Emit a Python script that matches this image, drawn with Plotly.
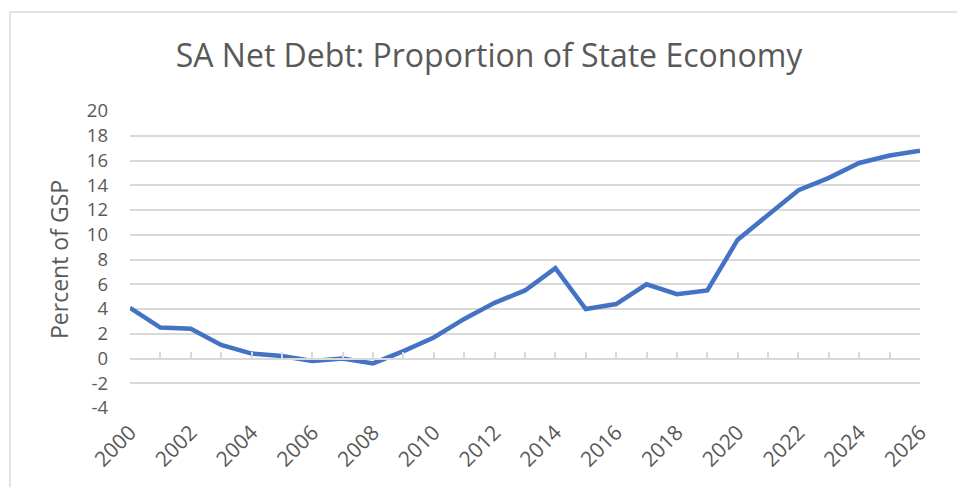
import plotly.graph_objects as go

years = list(range(2000, 2027))
net_debt_pct_gsp = [4.1, 2.5, 2.4, 1.1, 0.4, 0.2, -0.2, 0.0, -0.4, 0.6,
                    1.7, 3.2, 4.5, 5.5, 7.3, 4.0, 4.4, 6.0, 5.2, 5.5,
                    9.6, 11.6, 13.6, 14.6, 15.8, 16.4, 16.8]
x_tick_vals = list(range(2000, 2027, 2))
x_tick_text = [str(v) for v in x_tick_vals]
y_tick_vals = list(range(-4, 21, 2))
y_tick_text = [str(v) for v in y_tick_vals]

title_text = "SA Net Debt: Proportion of State Economy"
y_title = "Percent of GSP"

W, H = 957, 487
ML, MR, MT, MB = 130, 37, 111, 79
PW, PH = W - ML - MR, H - MT - MB

FONT = "Open Sans"
GREY = "#595959"
GRID = "#d9d9d9"

def px_x(p):
    return (p - ML) / PW

def px_y(p):
    return (H - MB - p) / PH

fig = go.Figure()
fig.add_trace(go.Scatter(x=years, y=net_debt_pct_gsp, mode="lines",
                         line=dict(color="#4472C4", width=4.5),
                         showlegend=False, hoverinfo="x+y"))
# helper trace to carry the zero-crossing category axis
fig.add_trace(go.Scatter(x=[years[0], years[-1]], y=[None, None], xaxis="x2",
                         mode="lines", showlegend=False, hoverinfo="skip"))

ymin, ymax = y_tick_vals[0], y_tick_vals[-1]

fig.update_layout(
    width=W, height=H,
    margin=dict(l=ML, r=MR, t=MT, b=MB),
    paper_bgcolor="white", plot_bgcolor="white",
    font=dict(family=FONT, color=GREY),
    title=dict(text=title_text, x=489 / W, xref="container", xanchor="center",
               y=1 - 56 / H, yref="container", yanchor="middle",
               font=dict(family=FONT, size=32, color=GREY)),
    xaxis=dict(range=[years[0], years[-1]], tickvals=x_tick_vals, ticktext=x_tick_text,
               tickangle=-45, showgrid=False, zeroline=False, showline=False,
               ticks="", ticklabelstandoff=7, tickfont=dict(size=21, color=GREY)),
    xaxis2=dict(range=[years[0], years[-1]], overlaying="x", anchor="free",
                position=(0 - ymin) / (ymax - ymin), side="bottom",
                showline=True, linecolor=GRID, linewidth=1.5,
                ticks="inside", ticklen=6, tickwidth=1.5, tickcolor=GRID, dtick=1,
                tick0=years[0], showticklabels=False, showgrid=False, zeroline=False),
    yaxis=dict(range=[ymin, ymax], tickvals=y_tick_vals, ticktext=y_tick_text,
               showgrid=True, gridcolor=GRID, gridwidth=1.5, zeroline=False,
               showline=False, ticks="", ticklabelstandoff=21,
               tickfont=dict(size=18.5, color=GREY)),
    annotations=[dict(text=y_title, textangle=-90, xref="paper", yref="paper",
                      x=px_x(59), y=px_y(260), xanchor="center", yanchor="middle",
                      showarrow=False, font=dict(family=FONT, size=23, color=GREY))],
    shapes=[
        dict(type="line", xref="paper", yref="paper", x0=px_x(10), x1=px_x(10),
             y0=px_y(12), y1=px_y(H + 5), line=dict(color=GRID, width=1.5)),
        dict(type="line", xref="paper", yref="paper", x0=px_x(10), x1=px_x(W + 5),
             y0=px_y(12), y1=px_y(12), line=dict(color=GRID, width=1.5)),
    ],
)

fig.write_html("out.html")
